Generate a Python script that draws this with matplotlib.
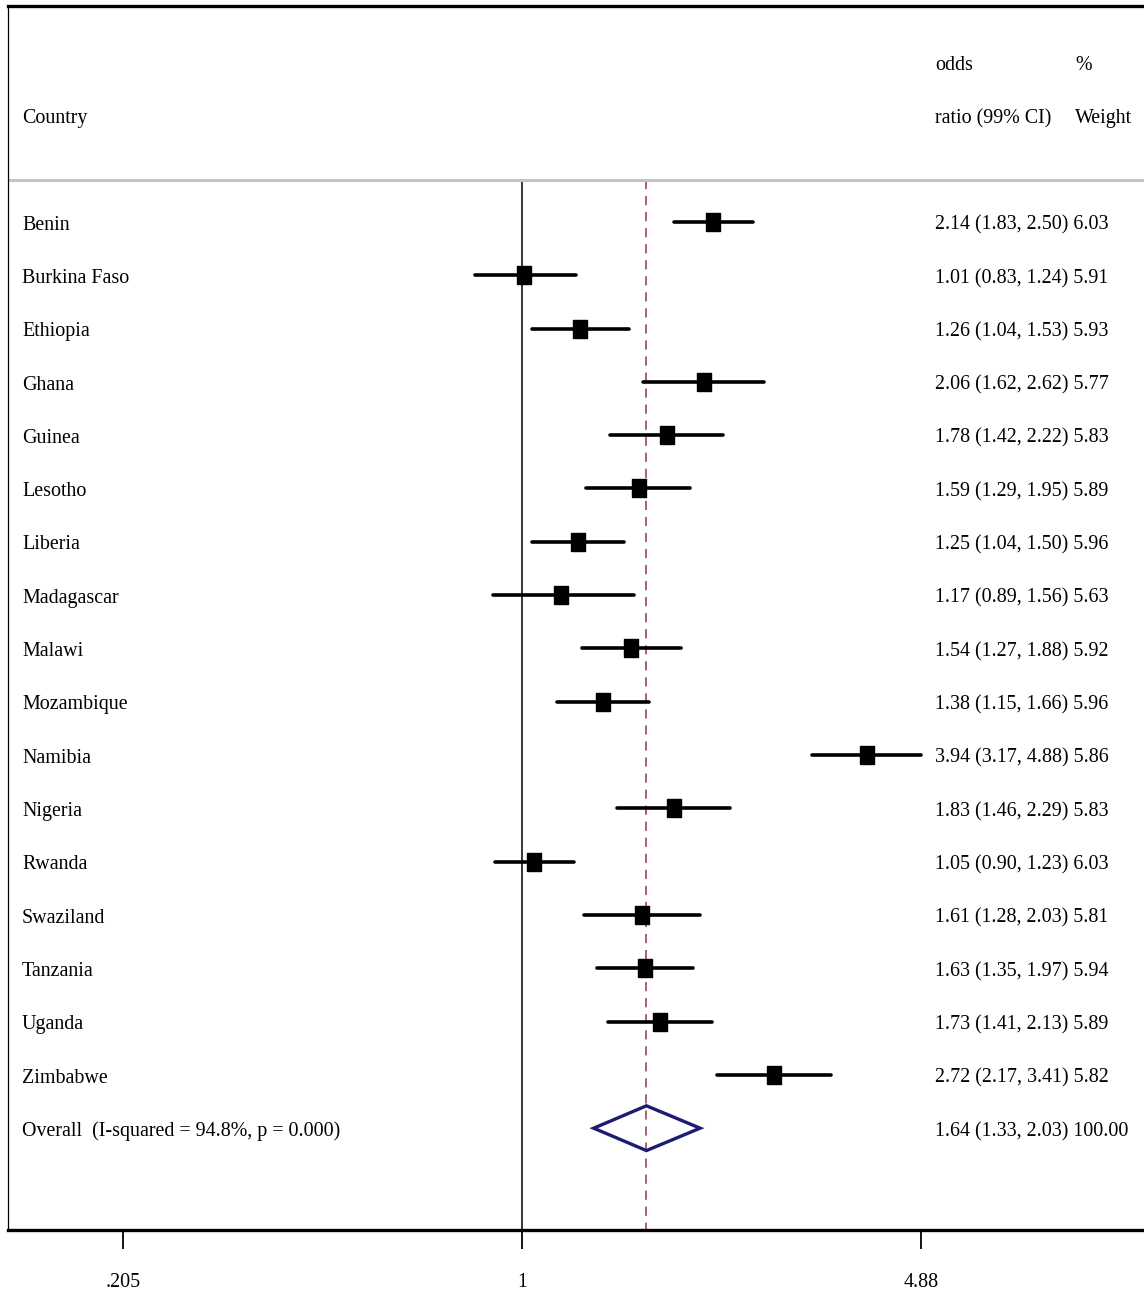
import numpy as np
import matplotlib
matplotlib.use('Agg')
import matplotlib.pyplot as plt
from matplotlib.patches import Polygon
import matplotlib.transforms as mtransforms

# Study data (odds ratio, 99% CI, % weight)
countries = ["Benin", "Burkina Faso", "Ethiopia", "Ghana", "Guinea", "Lesotho",
             "Liberia", "Madagascar", "Malawi", "Mozambique", "Namibia", "Nigeria",
             "Rwanda", "Swaziland", "Tanzania", "Uganda", "Zimbabwe"]
odds = [2.14, 1.01, 1.26, 2.06, 1.78, 1.59, 1.25, 1.17, 1.54, 1.38, 3.94, 1.83,
        1.05, 1.61, 1.63, 1.73, 2.72]
ci_low = [1.83, 0.83, 1.04, 1.62, 1.42, 1.29, 1.04, 0.89, 1.27, 1.15, 3.17, 1.46,
          0.90, 1.28, 1.35, 1.41, 2.17]
ci_high = [2.50, 1.24, 1.53, 2.62, 2.22, 1.95, 1.50, 1.56, 1.88, 1.66, 4.88, 2.29,
           1.23, 2.03, 1.97, 2.13, 3.41]
weights = [6.03, 5.91, 5.93, 5.77, 5.83, 5.89, 5.96, 5.63, 5.92, 5.96, 5.86, 5.83,
           6.03, 5.81, 5.94, 5.89, 5.82]

overall_label = "Overall  (I-squared = 94.8%, p = 0.000)"
overall_or, overall_lo, overall_hi, overall_w = 1.64, 1.33, 2.03, 100.00

tick_vals = [0.205, 1, 4.88]
tick_labels = [".205", "1", "4.88"]

plt.rcParams['font.family'] = ['Liberation Serif', 'DejaVu Serif']
FS = 14.4

W, H = 1144, 1292
fig = plt.figure(figsize=(W / 100, H / 100), dpi=100)
left_px, right_px, top_px, bot_px = 8, 1144, 6, 1230
ax = fig.add_axes([left_px / W, 1 - bot_px / H, (right_px - left_px) / W,
                   (bot_px - top_px) / H])

ax.set_xscale('log')
ax.set_xlim(0.1298, 11.84)
ax.set_ylim(18.91, -4.05)

n = len(countries)
rows = np.arange(n)
sep_y = -0.79
toff = 0.06  # text sits slightly lower than the marks

# reference lines
ax.plot([1, 1], [sep_y, 18.91], color='black', lw=1.1, zorder=1)
ax.plot([overall_or, overall_or], [sep_y, 18.91], color='#a0303a', lw=1.1,
        dashes=(6, 4.5), zorder=1)
ax.axhline(sep_y, color='#c4c4c4', lw=2.2, zorder=1)

# slightly tall box marker, like the stretched original
box = [(-0.78, -1), (0.78, -1), (0.78, 1), (-0.78, 1), (-0.78, -1)]

# CI lines and weight squares
for i in range(n):
    ax.plot([ci_low[i], ci_high[i]], [rows[i], rows[i]], color='black', lw=2.6,
            solid_capstyle='round', zorder=2)
    ax.plot(odds[i], rows[i], marker=box, color='black',
            markersize=13 * np.sqrt(weights[i] / 6.0), zorder=3)

# overall diamond
yo = n
dh = 0.42
diamond = Polygon([(overall_lo, yo), (overall_or, yo - dh), (overall_hi, yo),
                   (overall_or, yo + dh)], closed=True, fill=False,
                  edgecolor='#1c1c70', lw=2.4, zorder=3)
ax.add_patch(diamond)

# text columns
trans = mtransforms.blended_transform_factory(ax.transAxes, ax.transData)
x_name = (22 - left_px) / (right_px - left_px)
x_or = (935 - left_px) / (right_px - left_px)
x_w = (1075 - left_px) / (right_px - left_px)

ax.text(x_name, -2 + toff, "Country", transform=trans, fontsize=FS, va='center')
ax.text(x_or, -3 + toff, "odds", transform=trans, fontsize=FS, va='center')
ax.text(x_or, -2 + toff, "ratio (99% CI)", transform=trans, fontsize=FS, va='center')
ax.text(x_w, -3 + toff, "%", transform=trans, fontsize=FS, va='center')
ax.text(x_w, -2 + toff, "Weight", transform=trans, fontsize=FS, va='center')

for i in range(n):
    ax.text(x_name, rows[i] + toff, countries[i], transform=trans, fontsize=FS,
            va='center')
    ax.text(x_or, rows[i] + toff,
            f"{odds[i]:.2f} ({ci_low[i]:.2f}, {ci_high[i]:.2f}) {weights[i]:.2f}",
            transform=trans, fontsize=FS, va='center')
ax.text(x_name, yo + toff, overall_label, transform=trans, fontsize=FS, va='center')
ax.text(x_or, yo + toff,
        f"{overall_or:.2f} ({overall_lo:.2f}, {overall_hi:.2f}) {overall_w:.2f}",
        transform=trans, fontsize=FS, va='center')

# axes styling
ax.spines['right'].set_visible(False)
ax.spines['top'].set_linewidth(2.4)
ax.spines['bottom'].set_linewidth(2.4)
ax.spines['left'].set_linewidth(0.9)
ax.set_yticks([])
ax.xaxis.set_minor_locator(matplotlib.ticker.NullLocator())
ax.set_xticks(tick_vals)
ax.set_xticklabels(tick_labels)
ax.tick_params(axis='x', length=14, width=1.3, pad=17, labelsize=FS)

fig.savefig("out.png", dpi=100)
